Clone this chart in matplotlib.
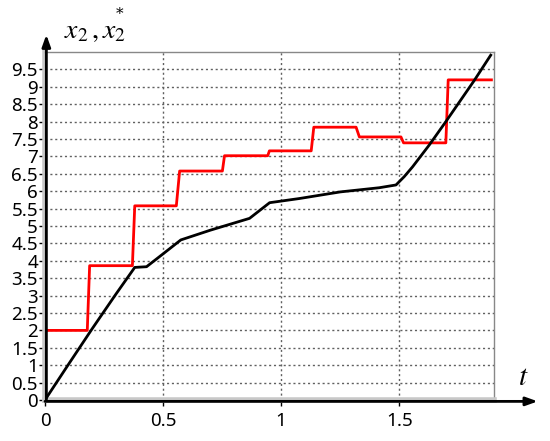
import matplotlib

matplotlib.use("Agg")

import matplotlib.pyplot as plt
import numpy as np

# x2* (red, piecewise constant reference)
red_t = [0, 0.179, 0.189, 0.370, 0.380, 0.556, 0.570, 0.751, 0.760, 0.943, 0.950,
         1.127, 1.138, 1.317, 1.331, 1.507, 1.518, 1.697, 1.707, 1.890]
red_v = [2.0, 2.0, 3.86, 3.86, 5.58, 5.58, 6.58, 6.58, 7.02, 7.02, 7.16,
         7.16, 7.84, 7.84, 7.56, 7.56, 7.39, 7.39, 9.2, 9.2]

# x2 (black)
black_t = [0, 0.10, 0.20, 0.30, 0.380, 0.43, 0.50, 0.575, 0.70, 0.866, 0.951,
           1.077, 1.25, 1.415, 1.486, 1.521, 1.556, 1.627, 1.697, 1.817, 1.887]
black_v = [0, 1.03, 2.05, 3.04, 3.81, 3.83, 4.20, 4.60, 4.88, 5.22, 5.67,
           5.79, 5.98, 6.10, 6.18, 6.42, 6.70, 7.33, 8.0, 9.18, 9.91]

x_ticks = [0, 0.5, 1, 1.5]
x_tick_labels = ["0", "0.5", "1", "1.5"]
y_ticks = np.arange(0, 10, 0.5)
y_tick_labels = [f"{v:g}" for v in y_ticks]

plt.rcParams["font.family"] = ["Noto Sans", "DejaVu Sans"]
plt.rcParams["mathtext.fontset"] = "stix"

fig = plt.figure(figsize=(5.5, 4.41), dpi=100)
ax = fig.add_axes([0.0818, 0.093, 0.816, 0.789])

ax.plot(red_t, red_v, color="#ff0000", lw=2, zorder=3)
ax.plot(black_t, black_v, color="black", lw=2, zorder=4)

ax.set_xlim(0, 1.9)
ax.set_ylim(0, 10)
ax.set_xticks(x_ticks)
ax.set_xticklabels(x_tick_labels)
ax.set_yticks(y_ticks)
ax.set_yticklabels(y_tick_labels)
ax.tick_params(axis="both", labelsize=13.5, length=4, width=1, color="black", pad=1)
ax.tick_params(axis="x", pad=5)

ax.grid(True, color="#606060", lw=1, linestyle=(0, (1.5, 2)))

for side in ("top", "right"):
    ax.spines[side].set_color("#888888")
    ax.spines[side].set_linewidth(1)
for side in ("left", "bottom"):
    ax.spines[side].set_color("#c8c8c8")
    ax.spines[side].set_linewidth(4)

arrow = dict(arrowstyle="-|>,head_length=0.7,head_width=0.25", color="black", lw=2,
             shrinkA=0, shrinkB=0)
ax.annotate("", xy=(0.003, 1.05), xytext=(0.003, 0), xycoords="axes fraction",
            arrowprops=arrow, annotation_clip=False, zorder=6)
ax.annotate("", xy=(1.098, -0.004), xytext=(0, -0.004), xycoords="axes fraction",
            arrowprops=arrow, annotation_clip=False, zorder=6)

fig.text(0.117, 0.914, r"$x_2\,,x_2$", fontsize=20, ha="left", va="baseline")
fig.text(0.217, 0.985, "*", fontsize=11, family="DejaVu Serif", ha="center", va="top")
fig.text(0.942, 0.127, r"$t$", fontsize=21, ha="left", va="baseline")

fig.savefig("out.png", dpi=100)
